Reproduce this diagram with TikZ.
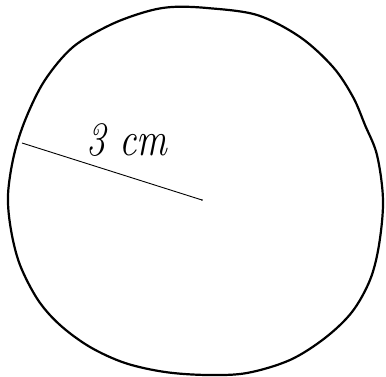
\documentclass[tikz,border=0pt]{standalone}
\begin{document}
\begin{tikzpicture}[x=1pt,y=-1pt,
  rim/.style={line width=2.2pt,line join=round},
  radius line/.style={line width=0.9pt},
  lbl/.style={font=\fontsize{48}{48}\selectfont\itshape,inner sep=0pt,xscale=0.8}]
\useasboundingbox (0,0) rectangle (386,377);
\draw[rim] plot[smooth cycle,tension=0.55] coordinates {
(172,7) (207,8) (257,15) (300,37) (333,67) (353,97) (365,125) (377,155) (383,200) (379,245) (370,280) (352,312) (325,338) (290,360) (247,373) (207,375) (165,372) (125,363) (90,347) (60,325) (38,300) (20,265) (11,230) (8,195) (14,155) (26,118) (45,80) (73,47) (110,25) (145,12)};
\coordinate (edge) at (22,143);
\coordinate (ctr) at (202,200);
\draw[radius line] (edge) -- (ctr);
\fill (ctr) circle (0.9pt);
\node[lbl] (len) at (127,140) {3 cm};
\end{tikzpicture}
\end{document}
